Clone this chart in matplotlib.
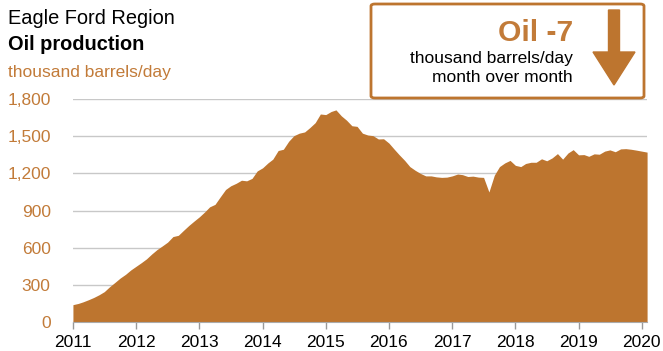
import numpy as np
import pandas as pd
import matplotlib
matplotlib.use("Agg")
import matplotlib.pyplot as plt
import matplotlib.dates as mdates
from matplotlib.patches import FancyBboxPatch, FancyArrow

plt.rcParams['font.family'] = ['Liberation Sans', 'DejaVu Sans']

# monthly oil production, thousand barrels/day, Jan 2011 - Feb 2020
months = pd.date_range("2011-01-01", "2020-02-01", freq="MS")
production = [
    140, 150, 163, 180, 198, 220, 245, 285, 320, 355, 385, 420,
    450, 480, 510, 550, 585, 615, 645, 690, 700, 740, 780, 815,
    850, 890, 930, 950, 1010, 1070, 1100, 1120, 1145, 1140, 1160, 1220,
    1245, 1285, 1315, 1385, 1395, 1460, 1505, 1525, 1535, 1570, 1610, 1680,
    1675, 1700, 1713, 1665, 1630, 1585, 1580, 1525, 1510, 1505, 1478, 1480,
    1445, 1395, 1350, 1305, 1255, 1225, 1200, 1180, 1180, 1172, 1168, 1170,
    1180, 1195, 1190, 1175, 1178, 1170, 1168, 1050, 1185, 1255, 1285, 1305,
    1265, 1255, 1280, 1290, 1290, 1318, 1302, 1325, 1360, 1315, 1365, 1392,
    1350, 1352, 1338, 1358, 1355, 1380, 1390, 1375, 1398, 1400, 1395, 1388,
    1380, 1372,
]
y_ticks = [0, 300, 600, 900, 1200, 1500, 1800]
year_ticks = list(range(2011, 2021))
change = -7

fill_color = "#bd752f"
text_orange = "#c27b39"
grid_color = "#c8c8c8"

fig = plt.figure(figsize=(6.63, 3.51), dpi=100)
ax = fig.add_axes([0.110, 0.0826, 0.866, 0.635])

ax.fill_between(months, production, 0, color=fill_color, linewidth=0, zorder=2)

ax.set_ylim(0, 1800)
ax.set_xlim(months[0], months[-1])
ax.set_yticks(y_ticks)
ax.set_yticklabels([f"{v:,}" for v in y_ticks], color=text_orange, fontsize=12.5)
ax.set_xticks([pd.Timestamp(f"{y}-01-01") for y in year_ticks])
ax.set_xticklabels([str(y) for y in year_ticks], fontsize=12.5)
ax.tick_params(axis="y", length=0, pad=16)
ax.tick_params(axis="x", length=5, color="#999999", width=1, pad=4)
ax.grid(axis="y", color=grid_color, linewidth=1, zorder=1)
for side in ["top", "right", "left"]:
    ax.spines[side].set_visible(False)
ax.spines["bottom"].set_color("#aaaaaa")
ax.spines["bottom"].set_zorder(3)

# titles
fig.text(8 / 663, 1 - 18 / 351, "Eagle Ford Region", fontsize=14.4, va="center", ha="left")
fig.text(8 / 663, 1 - 45 / 351, "Oil production", fontsize=14.4, fontweight="bold",
         va="center", ha="left")
fig.text(8 / 663, 1 - 73 / 351, "thousand barrels/day", fontsize=12.5, color=text_orange,
         va="center", ha="left")

# month-over-month change box
W, H = 663, 351
box = FancyBboxPatch((371 / W, 1 - 98 / H), 273 / W, 94 / H,
                     boxstyle="round,pad=0,rounding_size=0.006",
                     transform=fig.transFigure, facecolor="white",
                     edgecolor=fill_color, linewidth=2, zorder=5)
fig.patches.append(box)
fig.text(573 / W, 1 - 33 / H, f"Oil {change}", fontsize=21.6, fontweight="bold",
         color=text_orange, ha="right", va="center", zorder=6)
fig.text(573 / W, 1 - 58 / H, "thousand barrels/day", fontsize=12.5,
         ha="right", va="center", zorder=6)
fig.text(573 / W, 1 - 78 / H, "month over month", fontsize=12.5,
         ha="right", va="center", zorder=6)
arrow = FancyArrow(614 / W, 1 - 10 / H, 0, -75 / H, width=11 / W,
                   head_width=42 / W, head_length=33 / H, length_includes_head=True,
                   transform=fig.transFigure, color=fill_color, zorder=6)
fig.patches.append(arrow)

fig.savefig("out.png", dpi=100)
